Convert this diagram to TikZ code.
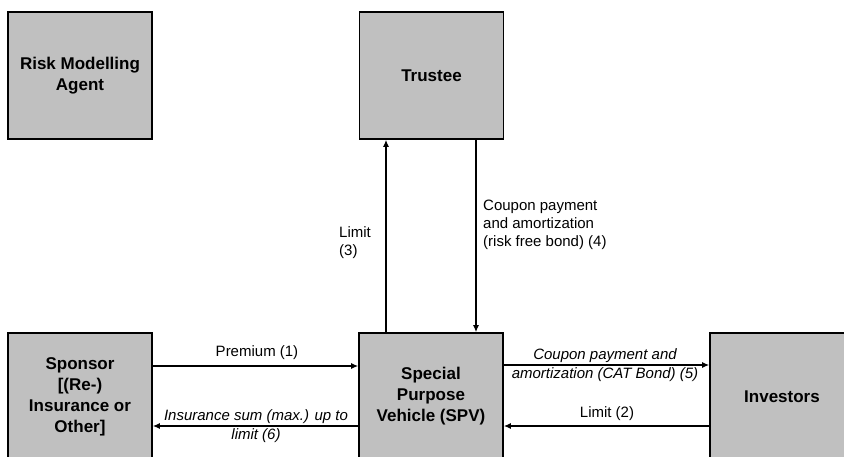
\documentclass[tikz,border=0pt]{standalone}
\usepackage{fontspec}
\setmainfont{Liberation Sans}
\usetikzlibrary{arrows.meta}
\definecolor{boxgray}{HTML}{C0C0C0}
\tikzset{
  party/.style={draw=black, line width=1.6pt, fill=boxgray, minimum width=144pt, minimum height=127pt, inner sep=0pt, align=center, font=\fontsize{17}{21}\selectfont\bfseries},
  flow/.style={line width=1.3pt, -{Latex[length=7pt,width=6pt]}},
  lbl/.style={font=\fontsize{15}{18}\selectfont, inner sep=0pt},
  ilbl/.style={font=\fontsize{15}{19}\selectfont\itshape, inner sep=0pt, fill=white, fill opacity=0, text opacity=1}
}
\begin{document}
\begin{tikzpicture}[x=1pt,y=-1pt]
\useasboundingbox (0,0) rectangle (844,456);
\clip (0,0) rectangle (844,456);
\fill[white] (0,0) rectangle (844,456);
\node[party] (risk) at (80,75.5) {Risk Modelling\\Agent};
\node[party] (trustee) at (431.5,75.5) {Trustee};
\node[party] (sponsor) at (80,396.5) {Sponsor\\{}[(Re-)\\Insurance or\\Other]};
\node[party] (spv) at (431,396.5) {Special\\Purpose\\Vehicle (SPV)};
\node[party] (inv) at (782,396.5) {Investors};
% horizontal flows
\draw[flow] (sponsor.east |- 0,366) -- (spv.west |- 0,366);
\draw[flow] (spv.west |- 0,426) -- (sponsor.east |- 0,426);
\draw[flow] (spv.east |- 0,365) -- (inv.west |- 0,365);
\draw[flow] (inv.west |- 0,426) -- (spv.east |- 0,426);
% vertical flows
\draw[flow] (spv.north -| 386,0) -- (trustee.south -| 386,0);
\draw[flow] (trustee.south -| 476,0) -- (spv.north -| 476,0);
% labels
\node[lbl] (l1) at (257,353) {Premium (1)};
\node[ilbl, align=center] (l6) at (256,426) {Insurance sum (max.) up to\\limit (6)};
\node[ilbl, align=center] (l5) at (605,365) {Coupon payment and\\amortization (CAT Bond) (5)};
\node[lbl] (l2) at (607,414) {Limit (2)};
\node[lbl, anchor=west, align=left] (l3) at (339,242.5) {Limit\\(3)};
\node[lbl, anchor=west, align=left] (l4) at (483,225) {Coupon payment\\and amortization\\(risk free bond) (4)};
\end{tikzpicture}
\end{document}
